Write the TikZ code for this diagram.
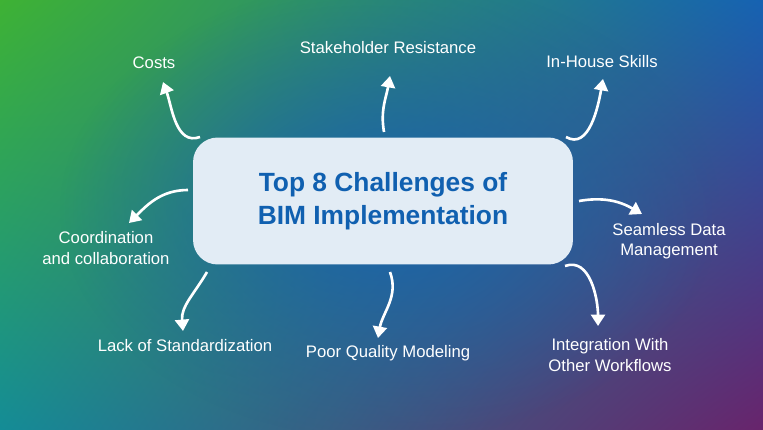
\documentclass[tikz,border=0pt]{standalone}
\usepackage{fontspec}
\setmainfont{Liberation Sans}
\usetikzlibrary{arrows.meta,fadings,shadings}
\definecolor{bgGreen}{RGB}{62,178,52}
\definecolor{bgBlue}{RGB}{22,98,178}
\definecolor{bgTeal}{RGB}{20,140,150}
\definecolor{bgPurple}{RGB}{104,36,108}
\definecolor{boxFill}{RGB}{226,236,245}
\definecolor{titleBlue}{RGB}{16,96,176}
\tikzfading[name=centreglow, inner color=transparent!0, outer color=transparent!100]
\begin{document}
\begin{tikzpicture}[
  x=0.02cm, y=-0.02cm,
  label/.style={text=white, font=\fontsize{9.5}{11.5}\selectfont, align=center},
  arrow/.style={-{Triangle[width=8pt,length=6.5pt]}, white, line width=1.5pt}
]
% background
\useasboundingbox (0,0) rectangle (763,429);
\shade[upper left=bgGreen, upper right=bgBlue, lower left=bgTeal, lower right=bgPurple]
  (0,0) rectangle (763,429);
\fill[bgBlue, path fading=centreglow, opacity=0.9] (390,210) ellipse (330 and 230);

% centre
\node (centre) [fill=boxFill, rounded corners=14pt, minimum width=7.6cm,
  minimum height=2.54cm, text=titleBlue, align=center,
  font=\fontsize{15}{19}\selectfont\bfseries] at (383,201)
  {Top 8 Challenges of\\BIM Implementation};

% labels
\node (costs) [label] at (154,63) {Costs};
\node (stake) [label] at (388,48) {Stakeholder Resistance};
\node (skills) [label] at (602,62) {In-House Skills};
\node (seamless) [label] at (669,241) {Seamless Data\\Management};
\node (integ) [label] at (610,355) {Integration With\\Other Workflows};
\node (poor) [label] at (388,353) {Poor Quality Modeling};
\node (lack) [label] at (185,346) {Lack of Standardization};
\node (coord) [label] at (106,248) {Coordination\\and collaboration};

% arrow ends
\coordinate (aCosts) at (163,82);
\coordinate (aStake) at (390,76);
\coordinate (aSkills) at (603,79);
\coordinate (aSeamless) at (642,214);
\coordinate (aInteg) at (598,326);
\coordinate (aPoor) at (378,338);
\coordinate (aLack) at (183,331);
\coordinate (aCoord) at (129,223);

\draw[arrow] (200,137) to[out=200,in=-70] (aCosts);
\draw[arrow] (384,132) to[out=100,in=-100] (aStake);
\draw[arrow] (566,137) to[out=-30,in=-100] (aSkills);
\draw[arrow] (579,201) to[out=10,in=150] (aSeamless);
\draw[arrow] (565,266) to[out=20,in=90] (aInteg);
\draw[arrow] (390,272) to[out=-70,in=80] (aPoor);
\draw[arrow] (207,272) to[out=-120,in=95] (aLack);
\draw[arrow] (188,190) to[out=180,in=45] (aCoord);
\end{tikzpicture}
\end{document}
